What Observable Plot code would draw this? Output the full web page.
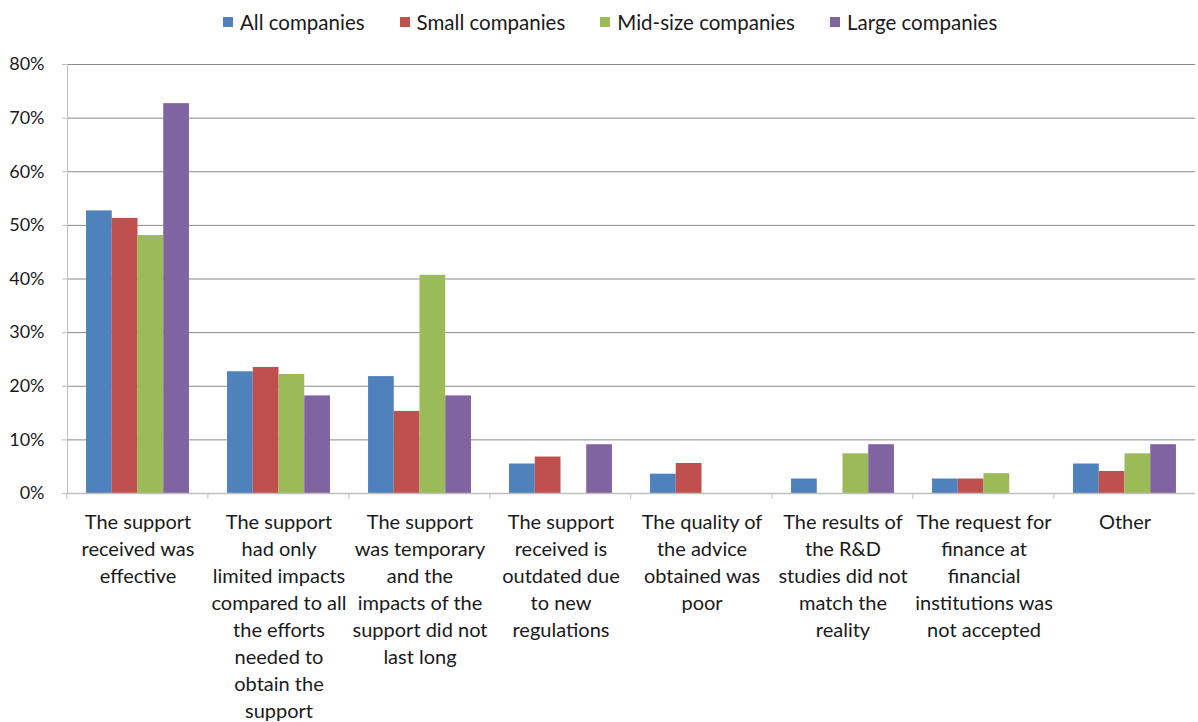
<!DOCTYPE html>
<html>
<head>
<meta charset="utf-8">
<script src="https://cdn.jsdelivr.net/npm/d3@7"></script>
<script src="https://cdn.jsdelivr.net/npm/@observablehq/plot@0.6"></script>
<style>
  body { margin: 0; background: #fff; font-family: Lato, "Open Sans", sans-serif; color: #1a1a1a; }
  #legend { height: 44px; display: flex; align-items: center; padding-left: 223px; gap: 35px; font-size: 20.5px; }
  #legend .item { display: flex; align-items: center; }
  #legend .sw { width: 10px; height: 10px; margin-right: 7px; }
</style>
</head>
<body>
<div id="legend"></div>
<div id="chart"></div>
<script>
const categories = [
  "The support received was effective",
  "The support had only limited impacts compared to all the efforts needed to obtain the support",
  "The support was temporary and the impacts of the support did not last long",
  "The support received is outdated due to new regulations",
  "The quality of the advice obtained was poor",
  "The results of the R&D studies did not match the reality",
  "The request for finance at financial institutions was not accepted",
  "Other"
];
const tickLabels = [
  "The support\nreceived was\neffective",
  "The support\nhad only\nlimited impacts\ncompared to all\nthe efforts\nneeded to\nobtain the\nsupport",
  "The support\nwas temporary\nand the\nimpacts of the\nsupport did not\nlast long",
  "The support\nreceived is\noutdated due\nto new\nregulations",
  "The quality of\nthe advice\nobtained was\npoor",
  "The results of\nthe R&D\nstudies did not\nmatch the\nreality",
  "The request for\nfinance at\nfinancial\ninstitutions was\nnot accepted",
  "Other"
];
const series = ["All companies", "Small companies", "Mid-size companies", "Large companies"];
const colors = ["#4F81BD", "#C0504D", "#9BBB59", "#8064A2"];
const allCompanies = [52.7, 22.7, 21.8, 5.5, 3.6, 2.7, 2.7, 5.5];
const smallCompanies = [51.3, 23.5, 15.3, 6.8, 5.6, 0, 2.7, 4.1];
const midCompanies = [48.1, 22.2, 40.7, 0, 0, 7.4, 3.7, 7.4];
const largeCompanies = [72.7, 18.2, 18.2, 9.1, 0, 9.1, 0, 9.1];
const yTicks = [0, 10, 20, 30, 40, 50, 60, 70, 80];

const values = [allCompanies, smallCompanies, midCompanies, largeCompanies];
const data = categories.flatMap((c, i) => series.map((s, j) => ({category: c, series: s, value: values[j][i]})));

const legend = document.getElementById("legend");
series.forEach((s, j) => {
  const it = document.createElement("div");
  it.className = "item";
  it.innerHTML = `<span class="sw" style="background:${colors[j]}"></span><span>${s}</span>`;
  legend.appendChild(it);
});

const chart = Plot.plot({
  width: 1198,
  height: 678,
  marginTop: 20,
  marginLeft: 63,
  marginRight: 0,
  marginBottom: 229,
  style: {fontFamily: "Lato, 'Open Sans', sans-serif", fontSize: "20px", color: "#1a1a1a", background: "white"},
  fx: {domain: categories, padding: 0, label: null},
  x: {domain: series, paddingInner: 0, paddingOuter: 0.74, round: false, axis: null},
  y: {domain: [0, 80], axis: null},
  color: {domain: series, range: colors},
  marks: [
    Plot.gridY(yTicks.filter(d => d > 0), {stroke: "#8a8a8a", strokeOpacity: 1}),
    Plot.barY(data, {fx: "category", x: "series", y: "value", fill: "series"}),
    Plot.ruleY([0], {stroke: "#bfbfbf", strokeWidth: 1.5}),
    Plot.axisY(yTicks, {tickFormat: d => d + "%", tickSize: 5, tickPadding: 18, stroke: "#bfbfbf", fontSize: 18, label: null}),
    Plot.axisFx({anchor: "bottom", tickSize: 0, tickPadding: 16, lineHeight: 1.35, label: null,
      tickFormat: d => tickLabels[categories.indexOf(d)]}),
    Plot.axisFx({anchor: "bottom", tickSize: 6, tickFormat: () => "", dx: -71.15, stroke: "#bfbfbf", label: null}),
    Plot.frame({anchor: "left", facetAnchor: "left", stroke: "#bfbfbf"})
  ]
});
document.getElementById("chart").appendChild(chart);
</script>
</body>
</html>
